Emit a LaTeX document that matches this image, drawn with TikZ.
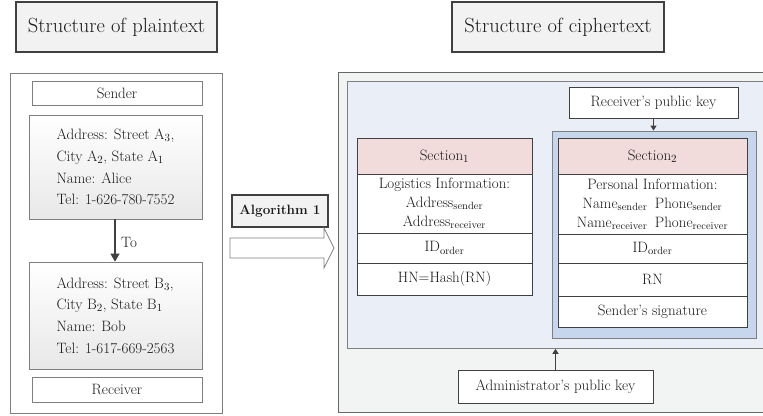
\documentclass[tikz,border=0pt]{standalone}
\usetikzlibrary{arrows.meta}
\definecolor{txt}{HTML}{1A1A1A}
\definecolor{titlefill}{HTML}{F2F2F2}
\definecolor{titledraw}{HTML}{404040}
\definecolor{panelgray}{HTML}{F2F3F3}
\definecolor{panelblue}{HTML}{E9EEF7}
\definecolor{boxblue}{HTML}{C6D6EC}
\definecolor{hdrpink}{HTML}{F2DCDB}
\definecolor{linegray}{HTML}{7F7F7F}
\definecolor{darkline}{HTML}{404040}
\definecolor{shadegray}{HTML}{E8E8E8}
\tikzset{
  titlebox/.style={draw=titledraw, line width=1.1pt, fill=titlefill, text=txt, font=\fontsize{20.5}{24}\selectfont, inner sep=0pt},
  plainbox/.style={draw=linegray, line width=0.7pt, fill=white, text=txt, font=\fontsize{15}{18}\selectfont, inner sep=0pt},
  addrbox/.style={draw=linegray, line width=0.7pt, top color=white, bottom color=shadegray, text=txt, font=\fontsize{15}{21.7}\selectfont, align=left, inner sep=0pt},
  cell/.style={draw=darkline, line width=0.8pt, fill=white, text=txt, font=\fontsize{15}{19}\selectfont, align=center, inner sep=0pt},
  hdrcell/.style={cell, fill=hdrpink},
  keybox/.style={draw=darkline, line width=0.8pt, fill=white, text=txt, font=\fontsize{15}{18}\selectfont, inner sep=0pt},
  darrow/.style={draw=darkline, line width=1.3pt, -{Triangle[length=8pt,width=9pt]}},
  sarrow/.style={draw=darkline, line width=1.1pt, -{Triangle[length=5pt,width=6pt]}},
}
\begin{document}
\begin{tikzpicture}[x=1pt,y=-1pt]
\useasboundingbox (0,0) rectangle (763,415);
\clip (0,0) rectangle (763,415);

% titles
\node[titlebox, minimum width=201pt, minimum height=50pt] (tplain) at (116.5,27) {Structure of plaintext};
\node[titlebox, minimum width=212pt, minimum height=50pt] (tcipher) at (558,27) {Structure of ciphertext};

% left panel
\node[draw=linegray, line width=0.8pt, fill=white, minimum width=212pt, minimum height=340pt, inner sep=0pt] (lpanel) at (116,243) {};
\node[plainbox, minimum width=170pt, minimum height=24pt] (sender) at (117,93) {Sender};
\node[addrbox, minimum width=173pt, minimum height=104pt] (alice) at (115.5,167)
  {Address: Street A$_3$,\\City A$_2$, State A$_1$\\Name: Alice\\Tel: 1-626-780-7552};
\node[addrbox, minimum width=173pt, minimum height=107pt] (bob) at (115.5,315.5)
  {Address: Street B$_3$,\\City B$_2$, State B$_1$\\Name: Bob\\Tel: 1-617-669-2563};
\node[plainbox, minimum width=170pt, minimum height=25pt] (receiver) at (117,389.5) {Receiver};
\draw[darrow] (alice.south -| 115,0) -- (bob.north -| 115,0);
\node[text=txt, font=\fontsize{15}{18}\selectfont, anchor=west, inner sep=0pt] (tolbl) at (121,242) {To};

% algorithm box and big arrow
\node[titlebox, font=\fontsize{13.5}{16}\selectfont\bfseries, minimum width=96pt, minimum height=32pt] (algo) at (280,211) {Algorithm 1};
\draw[draw=linegray, line width=0.8pt, fill=white] (230,238) -- (324,238) -- (324,228) -- (334,248) -- (324,268) -- (324,258) -- (230,258) -- cycle;

% right panels
\node[draw=darkline!80, line width=0.9pt, fill=panelgray, minimum width=437pt, minimum height=340pt, inner sep=0pt, anchor=north west] (rpanel) at (338,72) {};
\node[draw=linegray, line width=0.8pt, fill=panelblue, minimum width=423pt, minimum height=267pt, inner sep=0pt, anchor=north west] (ipanel) at (347,81) {};

% section 1
\node[hdrcell, minimum width=175pt, minimum height=36pt] (s1h) at (444.5,156) {Section$_1$};
\node[cell, minimum width=175pt, minimum height=59pt] (s1a) at (444.5,203.5)
  {Logistics Information:\\Address\textsubscript{sender}\\Address\textsubscript{receiver}};
\node[cell, minimum width=175pt, minimum height=30pt] (s1b) at (444.5,248) {ID\textsubscript{order}};
\node[cell, minimum width=175pt, minimum height=32pt] (s1c) at (444.5,279) {HN=Hash(RN)};

% section 2
\node[keybox, minimum width=169pt, minimum height=31pt] (rkey) at (653.5,102.5) {Receiver's public key};
\node[draw=linegray, line width=0.8pt, fill=boxblue, minimum width=204pt, minimum height=207pt, inner sep=0pt] (bluebox) at (654,234.5) {};
\node[hdrcell, minimum width=189pt, minimum height=36pt] (s2h) at (652.5,156) {Section$_2$};
\node[cell, minimum width=189pt, minimum height=60pt] (s2a) at (652.5,204)
  {Personal Information:\\Name\textsubscript{sender}\enspace Phone\textsubscript{sender}\\Name\textsubscript{receiver}\enspace Phone\textsubscript{receiver}};
\node[cell, minimum width=189pt, minimum height=29pt] (s2b) at (652.5,248.5) {ID\textsubscript{order}};
\node[cell, minimum width=189pt, minimum height=33pt] (s2c) at (652.5,279.5) {RN};
\node[cell, minimum width=189pt, minimum height=31pt] (s2d) at (652.5,311.5) {Sender's signature};
\draw[sarrow] (rkey.south) -- (bluebox.north -| rkey.south);

% admin key
\node[keybox, minimum width=195pt, minimum height=33pt] (akey) at (555.5,386.5) {Administrator's public key};
\draw[sarrow] (akey.north) -- (ipanel.south -| akey.north);
\end{tikzpicture}
\end{document}
